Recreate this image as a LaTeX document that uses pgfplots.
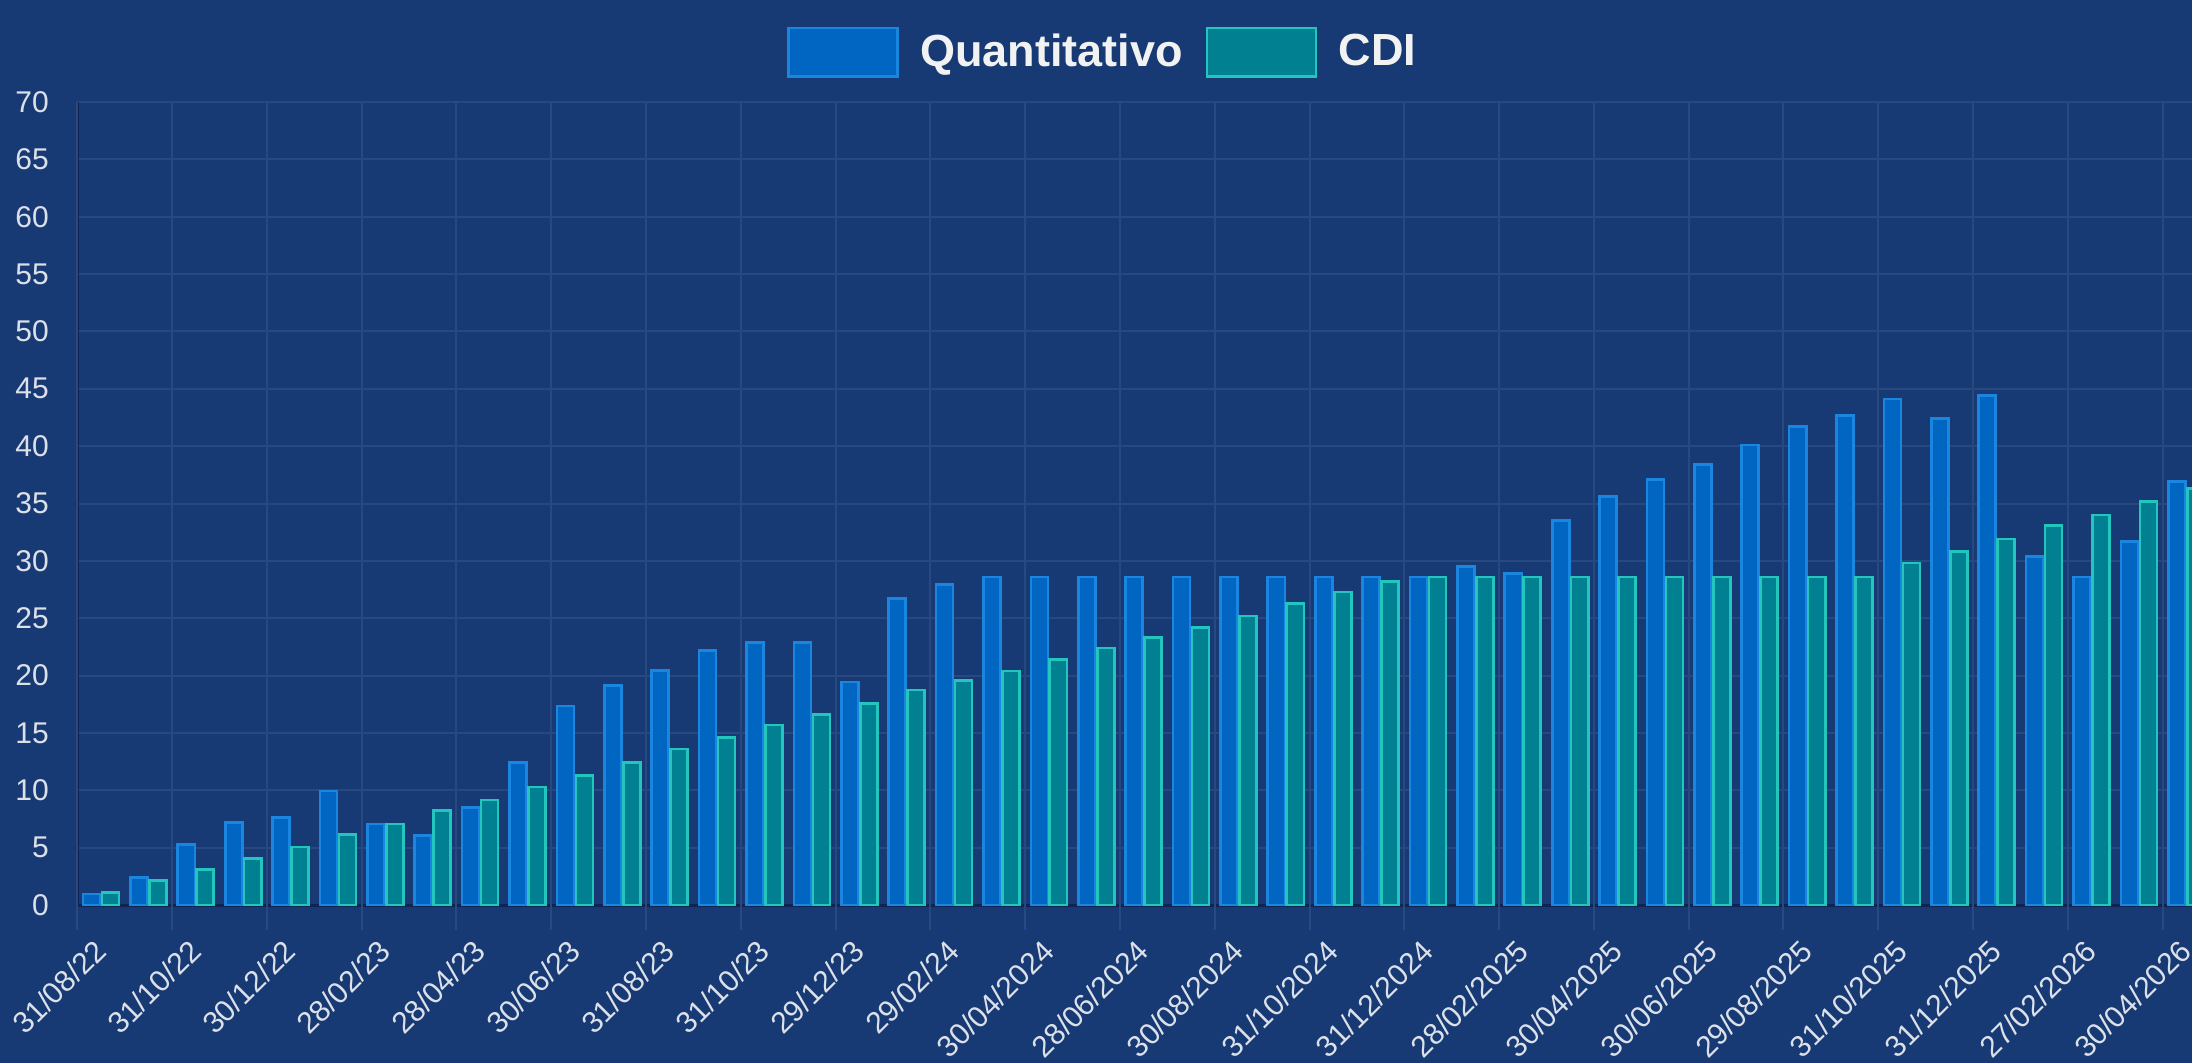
\documentclass[border=0pt]{standalone}
\usepackage{pgfplots}
\usepackage{pgfplotstable}
\pgfplotsset{compat=1.18}
\usepackage{fontspec}
\setmainfont{Liberation Sans}

\definecolor{bgc}{HTML}{173A75}
\definecolor{gridc}{HTML}{284980}
\definecolor{axisc}{HTML}{0F2452}
\definecolor{qfill}{HTML}{0066C2}
\definecolor{qdraw}{HTML}{1A86E0}
\definecolor{cfill}{HTML}{008090}
\definecolor{cdraw}{HTML}{22C6BE}
\definecolor{tickc}{HTML}{DCE0E8}
\definecolor{legc}{HTML}{F2F2F2}

\pgfplotstableread{
x q c
0 0.95 1.1
1 2.4 2.15
2 5.3 3.1
3 7.2 4.05
4 7.6 5.05
5 9.95 6.15
6 7.05 7.05
7 6.05 8.25
8 8.5 9.15
9 12.45 10.3
10 17.35 11.3
11 19.15 12.45
12 20.45 13.6
13 22.2 14.6
14 22.9 15.7
15 22.9 16.6
16 19.45 17.55
17 26.7 18.75
18 27.95 19.6
19 28.6 20.4
20 28.6 21.4
21 28.6 22.4
22 28.6 23.3
23 28.6 24.2
24 28.6 25.2
25 28.6 26.3
26 28.6 27.3
27 28.6 28.2
28 28.6 28.6
29 29.5 28.6
30 28.9 28.6
31 33.5 28.6
32 35.6 28.6
33 37.1 28.6
34 38.4 28.6
35 40.1 28.6
36 41.7 28.6
37 42.7 28.6
38 44.1 29.8
39 42.4 30.8
40 44.4 31.9
41 30.4 33.1
42 28.6 34.0
43 31.7 35.2
44 36.9 36.3
}\datatable

\begin{document}
\begin{tikzpicture}
\useasboundingbox (-23.19pt,-47.4pt) rectangle (634.41pt,271.5pt);
\fill[bgc] (-23.19pt,-47.4pt) rectangle (634.41pt,271.5pt);
\begin{axis}[
  at={(0,0)}, anchor=south west,
  scale only axis,
  width=634.4pt, height=240.9pt,
  xmin=-0.5, xmax=44.12,
  ymin=0, ymax=70,
  ytick={0,5,...,70},
  xtick={0,2,...,44},
  xticklabels={31/08/22,31/10/22,30/12/22,28/02/23,28/04/23,30/06/23,31/08/23,31/10/23,29/12/23,29/02/24,30/04/2024,28/06/2024,30/08/2024,31/10/2024,31/12/2024,28/02/2025,30/04/2025,30/06/2025,29/08/2025,31/10/2025,31/12/2025,27/02/2026,30/04/2026},
  extra x ticks={-0.5,1.5,3.5,5.5,7.5,9.5,11.5,13.5,15.5,17.5,19.5,21.5,23.5,25.5,27.5,29.5,31.5,33.5,35.5,37.5,39.5,41.5,43.5},
  extra x tick labels={},
  extra x tick style={grid=major, major tick length=7.5pt, tick align=outside, tick style={color=gridc, line width=0.6pt}},
  major tick length=0pt,
  ymajorgrids,
  grid style={color=gridc, line width=0.6pt},
  axis lines*=left,
  axis line style={color=axisc, line width=0.9pt},
  /pgf/number format/assume math mode=true,
  ticklabel style={font=\fontsize{9}{9}\selectfont, text=tickc},
  yticklabel style={anchor=east, xshift=-5pt},
  xticklabel style={xshift=-2.5pt, yshift=-4.9pt, rotate=45, anchor=north east},
  ybar,
  bar width=0.36,
  legend columns=2,
  legend style={at={(0.486,1.062)}, anchor=center, draw=none, fill=none,
    font=\bfseries\fontsize{13.5}{14}\selectfont, text=legc,
    /tikz/every odd column/.append style={column sep=4.45pt},
    /tikz/every even column/.append style={column sep=4.9pt}},
  legbox/.style={legend image code/.code={\draw[##1] (0pt,-7.3pt) rectangle (32.7pt,7.3pt);}},
]
\addplot[bar shift=-0.2, fill=qfill, draw=qdraw, line width=0.8pt, legbox] table[x=x,y=q] {\datatable};
\addlegendentry{Quantitativo}
\addplot[bar shift=0.2, fill=cfill, draw=cdraw, line width=0.8pt, legbox] table[x=x,y=c] {\datatable};
\addlegendentry{CDI}
\end{axis}
\end{tikzpicture}
\end{document}
